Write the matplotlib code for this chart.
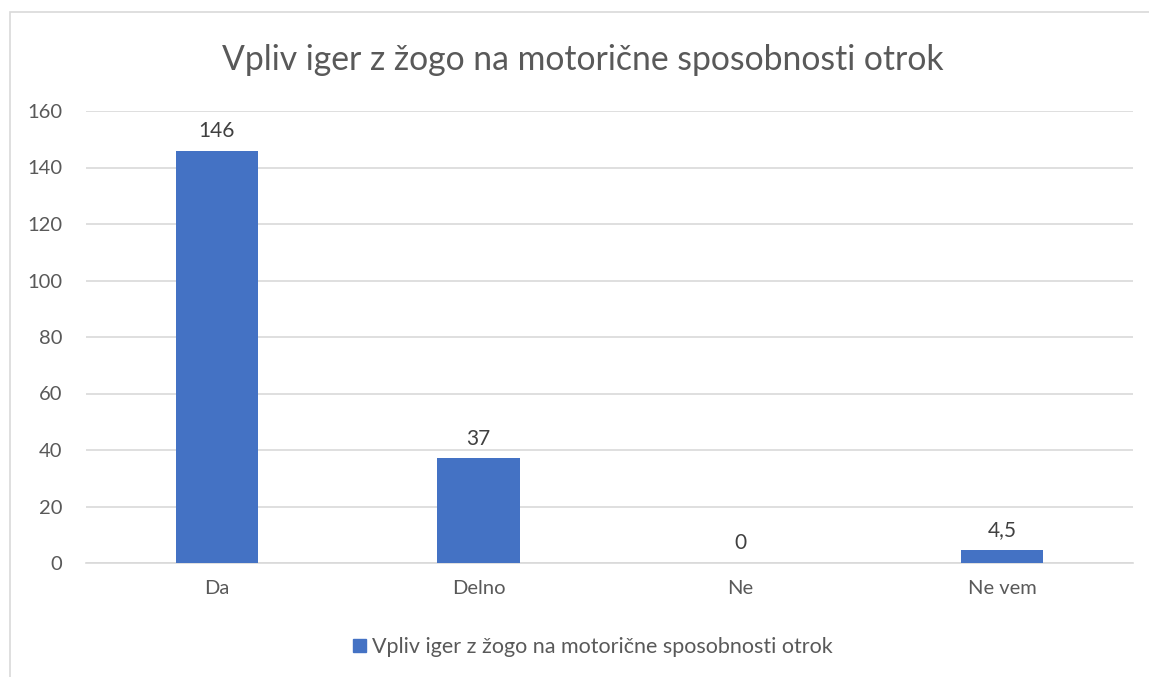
import matplotlib.pyplot as plt
from matplotlib.patches import Rectangle

categories = ["Da", "Delno", "Ne", "Ne vem"]
values = [146, 37, 0, 4.5]
value_labels = ["146", "37", "0", "4,5"]
yticks = [0, 20, 40, 60, 80, 100, 120, 140, 160]
title = "Vpliv iger z žogo na motorične sposobnosti otrok"

plt.rcParams['font.family'] = ['Lato', 'DejaVu Sans']

W, H = 1149, 677
fig = plt.figure(figsize=(W / 100, H / 100), dpi=100)

# chart border (Excel-style), runs off the right and bottom edges
fig.patches.append(Rectangle((10 / W, -0.1), 1.2, 1 - 12 / H + 0.1,
                             transform=fig.transFigure, fill=False,
                             edgecolor='#d9d9d9', linewidth=1.2))

ax = fig.add_axes([86 / W, 114 / H, (1133 - 86) / W, (563 - 111) / H])
x = range(len(categories))
ax.bar(x, values, width=0.315, color='#4472c4', zorder=3)
for xi, v, lab in zip(x, values, value_labels):
    ax.annotate(lab, (xi, v), xytext=(0, 7), textcoords='offset points',
                ha='center', va='bottom', fontsize=15, color='#404040')

ax.set_xlim(-0.5, len(categories) - 0.5)
ax.set_ylim(0, 160)
ax.set_yticks(yticks)
ax.set_xticks(list(x))
ax.set_xticklabels(categories)
ax.grid(axis='y', color='#d9d9d9', linewidth=1.2, zorder=0)
ax.tick_params(length=0, labelsize=14.5, colors='#595959')
ax.tick_params(axis='x', pad=12)
ax.tick_params(axis='y', pad=17)
for s in ['top', 'right', 'left']:
    ax.spines[s].set_visible(False)
ax.spines['bottom'].set_color('#d9d9d9')
ax.spines['bottom'].set_linewidth(1.2)

fig.text(583 / W, 1 - 60 / H, title, ha='center', va='center',
         fontsize=24.3, color='#595959')

leg = fig.legend([Rectangle((0, 0), 1, 1, color='#4472c4')], [title],
                 loc='center', bbox_to_anchor=(593 / W, 1 - 647 / H),
                 frameon=False, fontsize=15.5, handlelength=0.6,
                 handleheight=0.6, handletextpad=0.3)
for t in leg.get_texts():
    t.set_color('#595959')

fig.savefig('out.png', dpi=100)
